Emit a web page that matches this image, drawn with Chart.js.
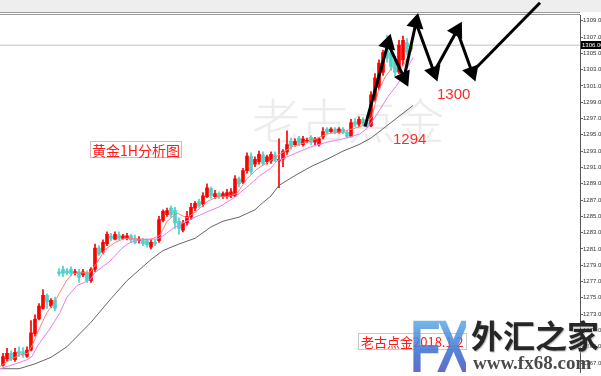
<!DOCTYPE html>
<html>
<head>
<meta charset="utf-8">
<script src="https://cdn.jsdelivr.net/npm/chart.js@4.4.1/dist/chart.umd.min.js"></script>
<style>
  body { margin: 0; background: #fff; }
  #wrap { position: relative; width: 601px; height: 376px; overflow: hidden; font-family: "Noto Sans CJK SC", sans-serif; }
  #wrap canvas { position: absolute; left: 0; top: 0; z-index: 1; }
  .mark { position: absolute; white-space: nowrap; line-height: 1; }
  #watermark { left: 252px; top: 94px; font-size: 48px; color: #ececec; z-index: 0; font-weight: 300; }
  #title { left: 90px; top: 141px; font-size: 14px; color: #ff1a1a; border: 1px solid #d8b8b8; padding: 1px 1px 0 1px; z-index: 2; }
  .level { font-family: "Liberation Sans", Arial, sans-serif; font-size: 15px; color: #ff2a2a; z-index: 2; }
  #lv1294 { left: 393px; top: 131px; }
  #lv1300 { left: 437px; top: 86px; }
  #stamp { left: 358px; top: 333px; font-size: 13px; color: #ff1a1a; border: 1px solid #c8c8c8; padding: 1px 2px 1px 2px; z-index: 2; }
  #fx { left: 410px; top: 310px; font-family: "Liberation Sans", Arial, sans-serif; font-weight: bold; font-size: 74px; letter-spacing: -6px;
        transform: scaleX(0.68); transform-origin: left top; z-index: 3; opacity: 0.88;
        background: linear-gradient(#6fc0ee, #3d6fd0 60%, #5b46b8); -webkit-background-clip: text; background-clip: text; color: transparent; }
  #fxcn { left: 471px; top: 318px; font-size: 32px; font-weight: bold; color: #262626; z-index: 3; text-shadow: 1px 1px 1px #bbb; }
  #fxurl { left: 473px; top: 353px; font-family: "Liberation Serif", serif; font-size: 19px; font-weight: bold; color: #4a4a4a; z-index: 3; }
</style>
</head>
<body>
<div id="wrap">
  <div class="mark" id="watermark">老古点金</div>
  <canvas id="chart" width="601" height="376"></canvas>
  <div class="mark" id="title">黄金1H分析图</div>
  <div class="mark level" id="lv1294">1294</div>
  <div class="mark level" id="lv1300">1300</div>
  <div class="mark" id="stamp">老古点金2018.1.2</div>
  <div class="mark" id="fx">FX</div>
  <div class="mark" id="fxcn">外汇之家</div>
  <div class="mark" id="fxurl">www.fx68.com</div>
</div>
<script>
// 1小时K线 (按顺序)
const opens = [1266.7,1267.5,1268.2,1267.4,1268.4,1268.4,1267.8,1268.6,1270.6,1272.4,
  1273.7,1275.3,1274.0,1274.7,1278.2,1278.5,1278.3,1278.5,1278.1,1278.2,
  1277.8,1278.1,1277.1,1278.5,1281.1,1280.6,1281.6,1282.6,1282.2,1282.7,
  1282.3,1282.3,1282.6,1282.3,1282.0,1282.1,1282.0,1281.2,1281.8,1282.0,
  1284.5,1285.2,1286.0,1285.7,1284.4,1283.3,1284.2,1284.9,1286.0,1286.8,
  1286.5,1287.4,1288.4,1287.4,1287.8,1287.4,1287.4,1287.5,1287.5,1289.6,
  1289.2,1290.6,1292.4,1291.4,1291.7,1292.5,1291.7,1291.8,1292.5,1291.8,
  1292.0,1292.9,1294.2,1293.8,1294.6,1293.8,1294.2,1294.7,1294.1,1293.8,
  1294.7,1295.7,1295.4,1295.7,1295.3,1295.7,1295.3,1294.8,1296.6,1296.3,
  1296.9,1296.5,1296.1,1299.3,1300.8,1302.7,1305.6,1305.1,1304.2,1302.7,
  1304.2,1306.3,1305.6];
const closes = [1267.8,1268.2,1267.5,1268.3,1268.2,1268.0,1268.6,1270.7,1272.4,1274.0,
  1275.3,1274.5,1274.7,1273.7,1278.0,1278.0,1278.1,1278.0,1278.2,1277.5,
  1278.2,1277.1,1278.5,1281.1,1280.4,1281.8,1282.8,1282.3,1282.8,1282.3,
  1282.6,1282.6,1282.1,1281.8,1282.2,1281.6,1281.5,1281.8,1281.6,1284.6,
  1285.6,1285.7,1285.2,1284.2,1283.5,1284.2,1285.0,1286.1,1286.6,1286.3,
  1287.5,1288.5,1287.5,1287.8,1287.4,1287.8,1287.9,1288.0,1289.6,1289.0,
  1290.6,1292.4,1290.5,1292.0,1292.6,1291.5,1292.3,1292.6,1291.9,1292.0,
  1293.0,1293.8,1293.6,1294.2,1294.0,1294.5,1294.3,1294.1,1294.5,1294.5,
  1295.4,1295.3,1295.7,1295.3,1295.7,1295.3,1294.8,1296.5,1296.3,1296.9,
  1296.4,1296.1,1299.9,1302.0,1303.8,1305.1,1304.4,1303.4,1302.7,1306.0,
  1306.6,1305.1,1306.0];
const highs = [1268.2,1268.8,1268.5,1268.8,1269.0,1268.9,1269.0,1272.2,1272.9,1274.3,
  1276.0,1275.5,1274.9,1275.1,1278.6,1278.9,1278.6,1278.8,1278.5,1278.5,
  1278.5,1278.3,1278.7,1281.6,1281.4,1282.1,1283.1,1282.9,1283.1,1283.1,
  1282.8,1282.9,1282.8,1282.7,1282.5,1282.3,1282.2,1282.2,1282.1,1285.0,
  1285.8,1286.0,1286.3,1286.1,1284.8,1284.5,1285.6,1286.6,1286.8,1287.1,
  1287.9,1289.0,1288.6,1288.2,1288.0,1288.0,1288.3,1288.4,1290.0,1289.8,
  1290.9,1292.8,1292.8,1292.3,1293.0,1292.9,1292.5,1292.9,1292.9,1294.5,
  1293.2,1295.5,1294.6,1294.5,1294.8,1294.8,1294.6,1294.9,1294.7,1294.7,
  1295.9,1295.9,1295.9,1295.9,1295.9,1295.9,1295.5,1296.9,1297.0,1297.2,
  1297.1,1296.8,1300.3,1302.5,1304.2,1305.4,1307.2,1305.6,1304.6,1306.6,
  1307.1,1306.8,1306.3];
const lows = [1266.6,1267.3,1267.3,1267.2,1267.8,1267.7,1267.7,1268.5,1270.3,1272.3,
  1273.6,1273.7,1273.8,1273.4,1277.7,1277.6,1277.8,1277.7,1277.8,1276.9,
  1277.6,1276.9,1276.9,1278.2,1280.2,1280.4,1281.4,1282.0,1282.1,1282.1,
  1282.2,1282.1,1281.8,1281.6,1281.7,1281.4,1281.2,1281.0,1281.4,1281.8,
  1284.3,1285.0,1284.9,1283.5,1282.8,1283.1,1283.9,1284.6,1285.7,1286.1,
  1286.2,1287.3,1287.2,1287.2,1287.2,1287.2,1287.2,1287.3,1287.4,1288.6,
  1289.0,1290.3,1290.2,1291.1,1291.4,1291.3,1291.4,1291.5,1291.7,1288.5,
  1291.1,1292.6,1293.2,1293.6,1293.7,1293.6,1294.0,1293.8,1293.8,1293.6,
  1294.5,1295.1,1295.3,1295.1,1295.2,1295.1,1294.6,1294.7,1296.0,1296.0,
  1296.1,1295.9,1296.0,1299.1,1300.5,1302.3,1303.9,1302.9,1302.2,1302.5,
  1303.5,1304.8,1305.4];

// 均线 (K线序号, 价格)
const maFastIdx = [-0.75,1.75,4.25,6.25,7.5,9.25,11,12.5,14.25,16,17.5,21.75,23.5,25.5,28,30.5,34.25,36.75,39.25,41,43.5,46,48.5,51,53.5,56,58.5,61,63.5,66.75,68.5,72.5,76.75,81,85,89.25,91,92.25,93.75,95.5,97.25,99.75,101.25,102.5];
const maFastVal = [1266.6,1267.4,1268.0,1268.2,1269.4,1271.4,1273.2,1274.2,1275.7,1277.2,1278.0,1278.1,1279.3,1280.9,1281.8,1282.3,1282.2,1282.1,1282.7,1284.4,1285.4,1284.8,1285.7,1286.8,1287.4,1287.4,1287.8,1289.6,1290.8,1291.8,1292.4,1293.6,1294.2,1295.1,1295.4,1296.0,1296.5,1297.2,1300.2,1302.1,1303.2,1303.3,1304.5,1305.7];
const maMidIdx = [-0.75,2.5,6,7.25,8.75,11.75,14.25,16,18.5,21.75,23,26.75,29.75,31.75,35,38.5,40,42.5,45,48.5,51.75,54.25,57.5,61,64.25,66.75,68.5,72.5,76.75,81,85,89.25,91,92.25,94.25,96.25,98.5,100.5,102.5];
const maMidVal = [1266.3,1266.8,1267.4,1267.8,1269.2,1271.2,1273.2,1275.1,1276.5,1277.2,1278.1,1279.5,1281.1,1281.8,1282.2,1282.2,1282.6,1283.5,1284.2,1285.0,1285.7,1286.2,1287.2,1288.6,1290.0,1290.8,1291.8,1292.6,1293.5,1294.1,1294.5,1295.1,1295.8,1296.6,1298.1,1299.7,1301.1,1302.7,1304.5];
const maSlowIdx = [-0.75,4,8,12,16,22,27,31,37,40,44,48,52,55,59,63,65,67,69,73,77,81,85,89,92,102.5];
const maSlowVal = [1266.3,1266.3,1266.9,1267.7,1269.0,1272.0,1274.9,1277.1,1279.7,1280.8,1281.6,1282.3,1283.7,1284.4,1284.9,1285.8,1286.7,1287.5,1288.8,1290.0,1291.1,1292.0,1293.0,1293.8,1294.6,1298.6];

// 预测走势箭头
const arrowIdx = [90.5, 96.25, 100.25, 103.25, 107.75, 113.5, 117.25, 134.25];
const arrowVal = [1296.0, 1306.2, 1302.0, 1308.75, 1302.7, 1307.8, 1302.7, 1311.2];

const bidPrice = 1306.0;
const yTicks = [1309,1307,1305,1303,1301,1299,1297,1295,1293,1291,1289,1287,1285,1283,1281,1279,1277,1275,1273,1271,1269,1267];
const xMin = -0.75, xMax = 144.25;
const yMin = 1265.85, yMax = 1309.7;

const UP = '#ff0000', DOWN = '#4dd2c8', LAST = '#66e63c';

const toPts = (idx, val) => idx.map((x, i) => ({ x: x, y: val[i] }));
const bodies = opens.map((o, i) => ({ x: i, y: [o, closes[i]] }));
const wicks = lows.map((l, i) => ({ x: i, y: [l, highs[i]] }));
const candleColors = opens.map((o, i) => i === opens.length - 1 ? LAST : (closes[i] >= o ? UP : DOWN));

const chromePlugin = {
  id: 'chrome',
  beforeDraw(chart) {
    const ctx = chart.ctx;
    ctx.save();
    ctx.fillStyle = '#eeeeee';
    ctx.fillRect(0, 0, chart.width, 12);
    ctx.strokeStyle = '#9a9a9a';
    ctx.lineWidth = 1;
    ctx.beginPath();
    ctx.moveTo(0, 12.5); ctx.lineTo(580, 12.5);
    ctx.moveTo(0, 14.5); ctx.lineTo(580, 14.5);
    ctx.stroke();
    ctx.restore();
  },
  afterDraw(chart) {
    const ctx = chart.ctx;
    const y = Math.round(chart.scales.y.getPixelForValue(bidPrice));
    ctx.save();
    ctx.fillStyle = '#000';
    ctx.fillRect(581, y - 4, 20, 8);
    ctx.fillStyle = '#fff';
    ctx.font = '6px "Liberation Sans"';
    ctx.textBaseline = 'middle';
    ctx.fillText(bidPrice.toFixed(2), 582, y);
    ctx.restore();
  }
};

new Chart(document.getElementById('chart'), {
  type: 'bar',
  data: {
    datasets: [
      {
        type: 'line', data: toPts(arrowIdx, arrowVal), borderColor: '#000', backgroundColor: '#000',
        borderWidth: 3, pointStyle: 'triangle', pointRadius: [0, 7, 7, 7, 7, 7, 7, 7],
        pointRotation: [0, 15, 155, 12, 160, 29, 160, 44], borderJoinStyle: 'miter', clip: false
      },
      { type: 'line', data: toPts(maFastIdx, maFastVal), borderColor: '#ff8080', borderWidth: 1, pointRadius: 0 },
      { type: 'line', data: toPts(maMidIdx, maMidVal), borderColor: '#ee7cee', borderWidth: 1, pointRadius: 0 },
      { type: 'line', data: toPts(maSlowIdx, maSlowVal), borderColor: '#666', borderWidth: 1, pointRadius: 0 },
      { data: bodies, backgroundColor: candleColors, barThickness: 3, grouped: false, minBarLength: 1 },
      { data: wicks, backgroundColor: candleColors, barThickness: 1, grouped: false },
      { type: 'line', data: [{ x: xMin, y: bidPrice }, { x: xMax, y: bidPrice }], borderColor: '#b9c3d3', borderWidth: 1, pointRadius: 0 }
    ]
  },
  options: {
    responsive: false,
    animation: false,
    layout: { autoPadding: false, padding: { top: 15, left: 0, right: 0, bottom: 0 } },
    plugins: { legend: { display: false }, tooltip: { enabled: false } },
    scales: {
      x: { type: 'linear', min: xMin, max: xMax, offset: false, display: false },
      y: {
        position: 'right', min: yMin, max: yMax,
        afterBuildTicks: axis => { axis.ticks = yTicks.map(v => ({ value: v })); },
        afterFit: axis => { axis.width = 21; },
        ticks: { autoSkip: false, padding: 0, color: '#333', font: { size: 6, family: 'Liberation Sans' }, callback: v => v.toFixed(2) },
        grid: { drawOnChartArea: false, drawTicks: true, tickLength: 3, color: '#666' },
        border: { display: true, color: '#555' }
      }
    }
  },
  plugins: [chromePlugin]
});
</script>
</body>
</html>
